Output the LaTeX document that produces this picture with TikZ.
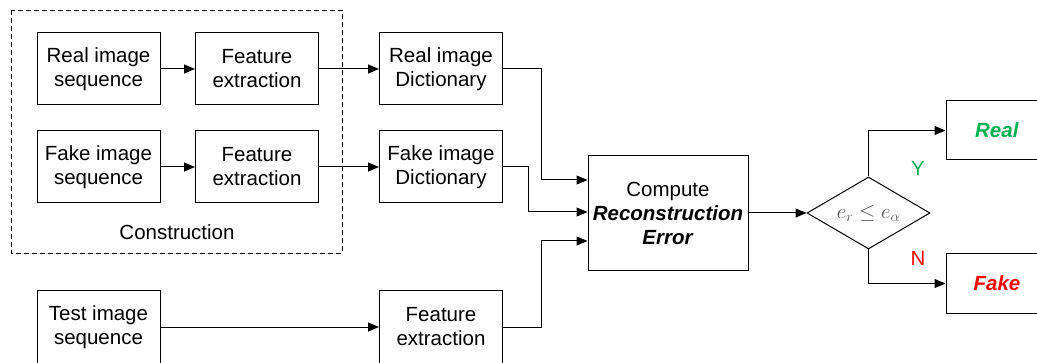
\documentclass[tikz,border=0pt]{standalone}
\usepackage{fontspec}
\setmainfont{Liberation Sans}
\usepackage{xcolor}
\usetikzlibrary{arrows.meta,shapes.geometric}

\definecolor{okgreen}{HTML}{00B050}
\definecolor{badred}{HTML}{FF0000}

\begin{document}
\begin{tikzpicture}[x=1pt,y=1pt,
  font=\fontsize{20.5}{24}\selectfont,
  box/.style={draw, line width=1pt, minimum width=123pt, minimum height=72pt,
    inner sep=1pt, align=center},
  link/.style={line width=1pt, -{Triangle[length=11pt,width=9pt]}}]

\useasboundingbox (0,0) rectangle (1037,362);

% Construction part
\draw[line width=0.9pt, dash pattern=on 5pt off 3pt] (11,352) rectangle (342,109);
\node (cons) at (177,130) {Construction};

\node[box] (rs)  at (98.5,293) {Real image\\sequence};
\node[box] (fe1) at (257,293)  {Feature\\extraction};
\node[box] (rd)  at (441,293)  {Real image\\Dictionary};

\node[box] (fs)  at (98.5,195) {Fake image\\sequence};
\node[box] (fe2) at (257,195)  {Feature\\extraction};
\node[box] (fd)  at (441,195)  {Fake image\\Dictionary};

% Test part
\node[box, minimum height=74pt] (ts)  at (98.5,35) {Test image\\sequence};
\node[box, minimum height=74pt] (fe3) at (441,35)  {Feature\\extraction};

% Decision part
\node[box, minimum width=160pt, minimum height=114pt, inner sep=0pt] (comp) at (668,149)
  {Compute\\\textbf{\textit{Reconstruction}}\\\textbf{\textit{Error}}};
\node[diamond, draw, line width=1pt, minimum width=123pt, minimum height=72pt,
  inner sep=0pt, aspect=1.7] (dec) at (868.5,149)
  {\fontsize{20}{22}\selectfont\color{black!65}$e_r \leq e_\alpha$};
\node[box, minimum width=102pt, minimum height=59pt] (real) at (997,231.5)
  {\textcolor{okgreen}{\textbf{\textit{Real}}}};
\node[box, minimum width=102pt, minimum height=60pt] (fake) at (997,78.5)
  {\textcolor{badred}{\textbf{\textit{Fake}}}};

\node[text=okgreen] (yes) at (918,194) {Y};
\node[text=badred] (no) at (918,104) {N};

% Connectors
\draw[link] (rs) -- (fe1);
\draw[link] (fe1) -- (rd);
\draw[link] (fs) -- (fe2);
\draw[link] (fe2) -- (fd);
\draw[link] (ts) -- (fe3);

\draw[link] (rd.east) -- ++(38,0) |- ([yshift=33pt]comp.west);
\draw[link] (fd.east) -- ++(25,0) |- ([yshift=1pt]comp.west);
\draw[link] (fe3.east) -- ++(38,0) |- ([yshift=-28pt]comp.west);

\draw[link] (comp) -- (dec);
\draw[link] (dec.north) |- (real.west);
\draw[link] (dec.south) |- (fake.west);

\end{tikzpicture}
\end{document}
